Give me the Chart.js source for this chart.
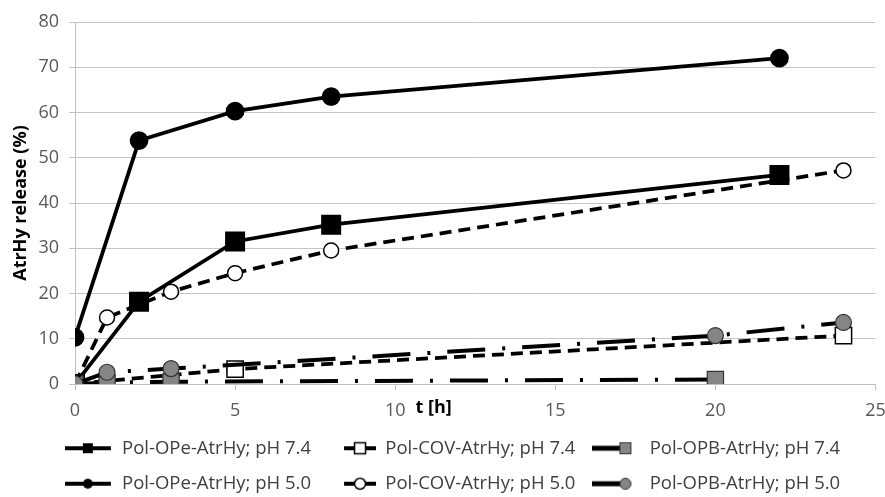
<!DOCTYPE html>
<html lang="en">
<head>
  <meta charset="UTF-8">
  <title>AtrHy release</title>
  <script src="https://cdn.jsdelivr.net/npm/chart.js"></script>
  <style>
    html, body { margin: 0; padding: 0; background: #fff; overflow: hidden; }
    #wrap { width: 885px; height: 503px; position: relative; }
  </style>
</head>
<body>
  <div id="wrap"><canvas id="chart"></canvas></div>

  <script>
    // time points [h] and release values [%]
    const opeTime = [0, 2, 5, 8, 22];
    const ope74 = [0, 18.2, 31.5, 35.2, 46.2];
    const ope50 = [10.3, 53.8, 60.3, 63.5, 72.0];

    const cov74Time = [0, 5, 24];
    const cov74 = [0, 3.3, 10.7];
    const cov50Time = [0, 1, 3, 5, 8, 24];
    const cov50 = [0, 14.7, 20.4, 24.5, 29.5, 47.2];

    const opb74Time = [0, 1, 3, 20];
    const opb74 = [0, 0.3, 0.5, 1.0];
    const opb50Time = [0, 1, 3, 20, 24];
    const opb50 = [0, 2.6, 3.4, 10.7, 13.6];

    const xTicks = [0, 5, 10, 15, 20, 25];
    const yTicks = [0, 10, 20, 30, 40, 50, 60, 70, 80];

    const labels = [
      'Pol-OPe-AtrHy; pH 7.4', 'Pol-COV-AtrHy; pH 7.4', 'Pol-OPB-AtrHy; pH 7.4',
      'Pol-OPe-AtrHy; pH 5.0', 'Pol-COV-AtrHy; pH 5.0', 'Pol-OPB-AtrHy; pH 5.0'
    ];

    const FONT = '"Open Sans", sans-serif';
    const GREY = '#858585';
    const GREY_EDGE = '#333';

    const pts = (xs, ys) => xs.map((x, i) => ({ x: x, y: ys[i] }));

    // little legend pictures: line + marker, like the excel legend
    function icon(kind) {
      const c = document.createElement('canvas');
      c.width = 48; c.height = 18;
      const g = c.getContext('2d');
      g.strokeStyle = '#000';
      g.lineWidth = 4;
      const y = 9;
      if (kind === 'ope74' || kind === 'ope50') {
        g.beginPath(); g.moveTo(0, y); g.lineTo(46, y); g.stroke();
        g.fillStyle = '#000';
        if (kind === 'ope74') g.fillRect(18, y - 5, 10, 10);
        else { g.beginPath(); g.arc(23, y, 5, 0, Math.PI * 2); g.fill(); }
      } else if (kind === 'cov74' || kind === 'cov50') {
        g.beginPath(); g.moveTo(16, y); g.lineTo(48, y); g.stroke();
        g.fillStyle = '#fff';
        g.lineWidth = 1.5;
        if (kind === 'cov74') { g.fillRect(26.5, y - 5.5, 11, 11); g.strokeRect(26.5, y - 5.5, 11, 11); }
        else { g.beginPath(); g.arc(32, y, 5.5, 0, Math.PI * 2); g.fill(); g.stroke(); }
      } else {
        g.lineWidth = 5;
        g.beginPath(); g.moveTo(0, y); g.lineTo(30, y); g.stroke();
        g.fillStyle = GREY;
        g.strokeStyle = GREY_EDGE;
        g.lineWidth = 1;
        if (kind === 'opb74') { g.fillRect(27.5, y - 5.5, 11, 11); g.strokeRect(27.5, y - 5.5, 11, 11); }
        else { g.beginPath(); g.arc(33, y, 5.5, 0, Math.PI * 2); g.fill(); g.stroke(); }
      }
      return c;
    }
    const icons = ['ope74', 'cov74', 'opb74', 'ope50', 'cov50', 'opb50'].map(icon);

    const longDashDot = [38, 17, 3, 17];

    // later series sit on top, as in the original workbook
    const datasets = [
      { label: labels[0], data: pts(opeTime, ope74), borderColor: '#000', borderWidth: 3.75,
        pointStyle: 'rect', pointRadius: 11.5, pointBackgroundColor: '#000', pointBorderColor: '#000', order: 6 },
      { label: labels[1], data: pts(cov74Time, cov74), borderColor: '#000', borderWidth: 3.75, borderDash: [12, 7],
        pointStyle: 'rect', pointRadius: 11.5, pointBackgroundColor: '#fff', pointBorderColor: '#000', pointBorderWidth: 1.5, order: 5 },
      { label: labels[2], data: pts(opb74Time, opb74), borderColor: '#000', borderWidth: 4, borderDash: longDashDot,
        pointStyle: 'rect', pointRadius: 11.5, pointBackgroundColor: GREY, pointBorderColor: GREY_EDGE, pointBorderWidth: 1.2, order: 4 },
      { label: labels[3], data: pts(opeTime, ope50), borderColor: '#000', borderWidth: 3.75,
        pointStyle: 'circle', pointRadius: 7.5, pointBackgroundColor: '#000', pointBorderColor: '#000', order: 3 },
      { label: labels[4], data: pts(cov50Time, cov50), borderColor: '#000', borderWidth: 3.75, borderDash: [12, 7],
        pointStyle: 'circle', pointRadius: 7.5, pointBackgroundColor: '#fff', pointBorderColor: '#000', pointBorderWidth: 1.5, order: 2 },
      { label: labels[5], data: pts(opb50Time, opb50), borderColor: '#000', borderWidth: 4, borderDash: longDashDot,
        pointStyle: 'circle', pointRadius: 8, pointBackgroundColor: GREY, pointBorderColor: GREY_EDGE, pointBorderWidth: 1.2, order: 1 }
    ];

    const tLabel = {
      id: 'tLabel',
      afterDraw(chart) {
        const { ctx, scales: { x } } = chart;
        ctx.save();
        ctx.font = 'bold 18px ' + FONT;
        ctx.fillStyle = '#000';
        ctx.textAlign = 'center';
        ctx.textBaseline = 'middle';
        ctx.fillText('t [h]', x.getPixelForValue(11.2), x.top + 24);
        ctx.restore();
      }
    };

    new Chart(document.getElementById('chart'), {
      type: 'line',
      data: { datasets: datasets },
      plugins: [tLabel],
      options: {
        responsive: true,
        maintainAspectRatio: false,
        animation: false,
        layout: { autoPadding: false, padding: { top: 22, right: 0, left: 20, bottom: 0 } },
        elements: { line: { tension: 0, fill: false, borderCapStyle: 'butt' } },
        plugins: {
          tooltip: { enabled: false },
          legend: {
            position: 'bottom',
            labels: {
              usePointStyle: true,
              pointStyleWidth: 48,
              padding: 17,
              color: '#404040',
              font: { family: FONT, size: 18.5 },
              generateLabels: () => labels.map((t, i) => ({
                text: t, pointStyle: icons[i], datasetIndex: i, lineWidth: 0,
                fillStyle: '#000', strokeStyle: '#000', fontColor: '#404040', hidden: false
              }))
            }
          }
        },
        scales: {
          x: {
            type: 'linear',
            min: xTicks[0],
            max: xTicks[xTicks.length - 1],
            afterBuildTicks: s => { s.ticks = xTicks.map(v => ({ value: v })); },
            afterFit: s => { s.height = 38; s.paddingRight = 9.5; s.paddingLeft = 0; },
            grid: { drawOnChartArea: false, drawTicks: true, tickLength: 6, color: '#bfbfbf' },
            border: { color: '#bfbfbf' },
            ticks: { padding: 0, color: '#595959', font: { family: FONT, size: 18, lineHeight: 2.3 } }
          },
          y: {
            min: yTicks[0],
            max: yTicks[yTicks.length - 1],
            afterBuildTicks: s => { s.ticks = yTicks.map(v => ({ value: v })); },
            afterFit: s => { s.width = 55; },
            grid: { color: '#c4c4c4', tickLength: 6 },
            border: { color: '#bfbfbf' },
            ticks: { padding: 10, color: '#595959', font: { family: FONT, size: 18 } },
            title: {
              display: true,
              text: 'AtrHy release (%)',
              color: '#000',
              padding: { top: -10, bottom: 0 },
              font: { family: FONT, size: 18, weight: 'bold' }
            }
          }
        }
      }
    });
  </script>
</body>
</html>
